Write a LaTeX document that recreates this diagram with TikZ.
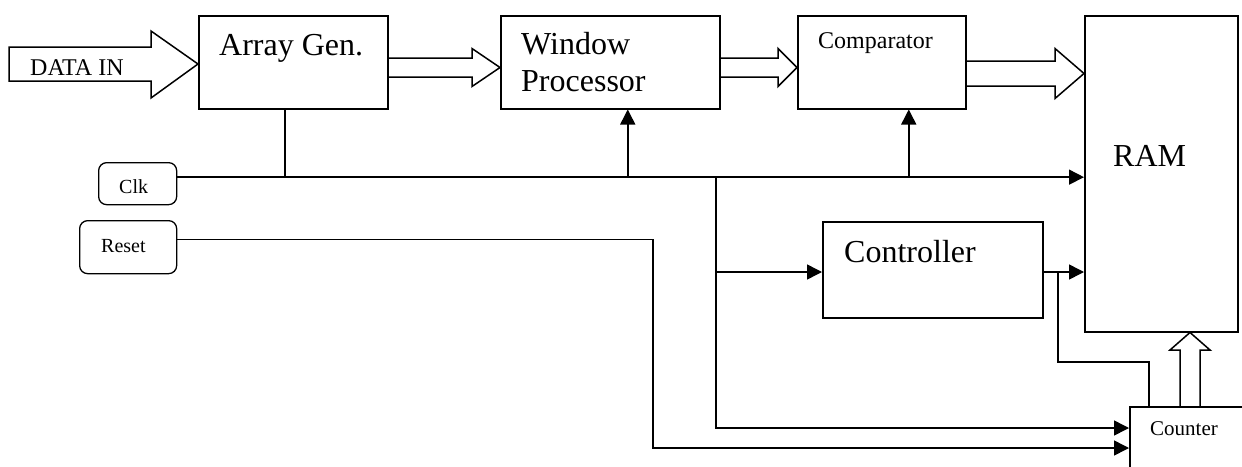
\documentclass[tikz,border=0pt]{standalone}
\usepackage{fontspec}
\setmainfont{Liberation Serif}
\usetikzlibrary{arrows.meta,calc}
\tikzset{
 box/.style={draw, line width=1.5pt, inner sep=0pt, anchor=north west},
 rbox/.style={draw, line width=1.3pt, rounded corners=8pt, inner sep=0pt, anchor=north west},
 lbl/.style={inner sep=0pt, anchor=base west},
 wire/.style={line width=1.5pt},
 arr/.style={wire, -{Triangle[length=15pt,width=15pt]}},
 fat/.style={line width=1.5pt, line join=miter},
}
\newcommand{\fatH}[5]{\draw[fat] let \p1=#1, \p2=#2 in (\x1,\y1+#3) -- (\x2-#5,\y1+#3) -- (\x2-#5,\y1+#4) -- (\x2,\y1) -- (\x2-#5,\y1-#4) -- (\x2-#5,\y1-#3) -- (\x1,\y1-#3);}
\begin{document}
\begin{tikzpicture}[x=1pt,y=-1pt]
\clip (0,0) rectangle (1242,466);
\fill[white] (0,0) rectangle (1242,466);
% boxes
\node[box, minimum width=189pt, minimum height=93pt] (ag) at (198,15) {};
\node[box, minimum width=219pt, minimum height=93pt] (wp) at (500,15) {};
\node[box, minimum width=168pt, minimum height=93pt] (cmp) at (797,15) {};
\node[box, minimum width=153pt, minimum height=316pt] (ram) at (1084,15) {};
\node[box, minimum width=220pt, minimum height=96pt] (ctrl) at (822,221) {};
\node[box, minimum width=200pt, minimum height=100pt] (cnt) at (1129,406) {};
\node[rbox, minimum width=78pt, minimum height=42pt] (clk) at (98,162) {};
\node[rbox, minimum width=97pt, minimum height=53pt] (rst) at (79,220) {};
% labels
\node[lbl, font=\fontsize{32}{37}\selectfont] (tag) at (219,55) {Array Gen.};
\node[lbl, font=\fontsize{32}{37}\selectfont] (twp1) at (521,54) {Window};
\node[lbl, font=\fontsize{32}{37}\selectfont] (twp2) at (521,91) {Processor};
\node[lbl, font=\fontsize{24}{28}\selectfont] (tcmp) at (818,48) {Comparator};
\node[lbl, font=\fontsize{32}{37}\selectfont] (tram) at (1113,166) {RAM};
\node[lbl, font=\fontsize{32}{37}\selectfont] (tctrl) at (844,262) {Controller};
\node[lbl, font=\fontsize{21}{25}\selectfont] (tcnt) at (1150,435) {Counter};
\node[lbl, font=\fontsize{20}{24}\selectfont] (tclk) at (119,193) {Clk};
\node[lbl, font=\fontsize{20}{24}\selectfont] (trst) at (101,252) {Reset};
\node[lbl, font=\fontsize{24}{28}\selectfont] (tdin) at (30,75) {DATA IN};
% fat arrows
\draw[fat] (9,47) -- (151,47) -- (151,31) -- (ag.west |- 0,64) -- (151,98) -- (151,81) -- (9,81) -- cycle;
\fatH{(ag.east |- 0,67.5)}{(wp.west |- 0,67.5)}{9.5pt}{19pt}{28pt}
\fatH{(wp.east |- 0,67.5)}{(cmp.west |- 0,67.5)}{9.5pt}{19pt}{19pt}
\fatH{(cmp.east |- 0,73.5)}{(ram.west |- 0,73.5)}{12.5pt}{25pt}{29pt}
\draw[fat] (cnt.north -| 1180,0) -- (1180,350) -- (1170,350) -- (ram.south -| 1190,0) -- (1210,350) -- (1200,350) -- (cnt.north -| 1200,0);
% clock network
\coordinate (ckl) at ([yshift=6.5pt]clk.east);
\coordinate (br) at (ckl -| 716,0);
\coordinate (fb) at (1058,272);
\draw[arr] (ckl) -- (ckl -| ram.west);
\draw[wire] ([xshift=-8.5pt]ag.south) -- ([xshift=-8.5pt]ag.south |- ckl);
\draw[arr] ([xshift=17.5pt]wp.south |- ckl) -- ([xshift=17.5pt]wp.south);
\draw[arr] ([xshift=27pt]cmp.south |- ckl) -- ([xshift=27pt]cmp.south);
\draw[arr] (br) |- ([yshift=-22pt]cnt.north west);
\draw[arr] (br |- fb) -- (ctrl.west |- fb);
\draw[arr] (ctrl.east |- fb) -- (ram.west |- fb);
\draw[wire] (fb) |- ([xshift=20pt]cnt.north west |- 0,362) -- ([xshift=20pt]cnt.north west);
% reset
\draw[arr] ([yshift=7.5pt]rst.east) -| (653,300) |- ([yshift=-42pt]cnt.north west);
\end{tikzpicture}
\end{document}
